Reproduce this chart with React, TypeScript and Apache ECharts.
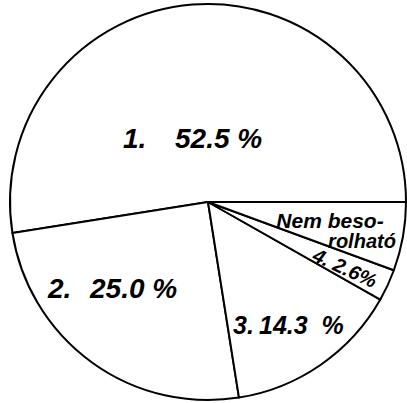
import React, { useEffect, useRef } from "react";
import * as echarts from "echarts";

const categories = ["1.", "2.", "3.", "4.", "Nem besorolható"];
const shares = [52.5, 25.0, 14.3, 2.6, 5.6];
const pctLabels = ["52.5 %", "25.0 %", "14.3  %", "2.6%"];
const otherLabelLines = ["Nem beso-", "rolható"];

const FONT = "Liberation Sans";

export default function App() {
  const ref = useRef<HTMLDivElement>(null);
  useEffect(() => {
    if (!ref.current) return;
    const chart = echarts.init(ref.current, null, { renderer: "svg" });
    const txt = (text: string, x: number, y: number, size: number, align = "left", rotation = 0) => ({
      type: "text",
      x,
      y,
      rotation,
      style: {
        text,
        fill: "#000",
        font: `italic bold ${size}px "${FONT}"`,
        textAlign: align,
        textVerticalAlign: "middle",
      },
      z: 10,
    });
    chart.setOption({
      animation: false,
      backgroundColor: "#fff",
      series: [
        {
          type: "pie",
          center: [208, 202],
          radius: 198,
          startAngle: 0,
          clockwise: false,
          avoidLabelOverlap: false,
          label: { show: false },
          labelLine: { show: false },
          emphasis: { disabled: true },
          itemStyle: { color: "#fff", borderColor: "#000", borderWidth: 2 },
          data: categories.map((c, i) => ({ name: c, value: shares[i] })),
        },
      ],
      graphic: [
        txt(categories[0], 123, 138, 28),
        txt(pctLabels[0], 175, 138, 28),
        txt(categories[1], 48, 288, 28),
        txt(pctLabels[1], 90, 288, 28),
        txt(categories[2], 233, 325, 25),
        txt(pctLabels[2], 259, 325, 25),
        txt(categories[3] + " " + pctLabels[3], 345, 268, 20, "center", -0.43),
        txt(otherLabelLines[0], 330, 220, 21, "center"),
        txt(otherLabelLines[1], 362, 241, 20, "center"),
      ],
    });
    return () => chart.dispose();
  }, []);
  return (
    <div
      ref={ref}
      style={{ position: "fixed", left: 0, top: 0, width: 407, height: 403, background: "#fff" }}
    />
  );
}
